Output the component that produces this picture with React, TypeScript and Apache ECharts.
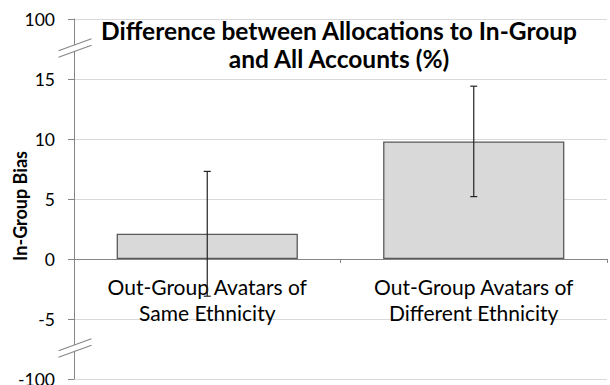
import React, { useEffect, useRef } from "react";
import * as echarts from "echarts";

const titleText = "Difference between Allocations to In-Group\nand All Accounts (%)";
const yAxisTitle = "In-Group Bias";
const categories = [
  "Out-Group Avatars of\nSame Ethnicity",
  "Out-Group Avatars of\nDifferent Ethnicity",
];
const biasValues = [2.1, 9.8];
const errorLow = [-3.1, 5.2];
const errorHigh = [7.3, 14.4];
// axis positions (linear, broken) and the labels shown there
const tickValues = [-10, -5, 0, 5, 10, 15, 20];
const tickLabels = ["-100", "-5", "0", "5", "10", "15", "100"];
const breakValues = [17.6, -7.4];

const FONT = "Lato, 'Noto Sans', sans-serif";

export default function App() {
  const ref = useRef<HTMLDivElement>(null);

  useEffect(() => {
    document.body.style.margin = "0";
    if (!ref.current) return;
    const chart = echarts.init(ref.current, undefined, { renderer: "svg" });

    const option: any = {
      animation: false,
      backgroundColor: "#ffffff",
      title: {
        text: titleText,
        left: 339,
        textAlign: "center",
        top: 16,
        padding: 0,
        textStyle: {
          fontFamily: FONT,
          fontWeight: "bold",
          fontSize: 24.5,
          lineHeight: 28,
          color: "#000",
          backgroundColor: "#ffffff",
          padding: [0, 6],
        },
        z: 10,
      },
      grid: {
        left: 74,
        right: 3,
        top: 19,
        bottom: 6,
        containLabel: false,
        outerBoundsMode: "none",
      },
      xAxis: {
        type: "category",
        data: categories,
        position: "bottom",
        offset: 0,
        axisLine: { onZero: false, lineStyle: { color: "#868686", width: 1 } },
        axisTick: { show: true, length: 4, lineStyle: { color: "#868686" } },
        axisLabel: {
          fontFamily: FONT,
          fontSize: 21,
          lineHeight: 26,
          color: "#000",
          margin: 14,
          interval: 0,
        },
        splitLine: { show: false },
      },
      yAxis: {
        type: "value",
        min: -10,
        max: 20,
        interval: 5,
        axisLine: { show: true, lineStyle: { color: "#868686", width: 1 } },
        axisTick: { show: true, length: 6, lineStyle: { color: "#868686" } },
        axisLabel: {
          fontFamily: FONT,
          fontSize: 17.5,
          color: "#000",
          margin: 19,
          formatter: (v: number) => {
            const i = tickValues.indexOf(v);
            return i >= 0 ? tickLabels[i] : "";
          },
        },
        splitLine: { show: true, lineStyle: { color: "#d9d9d9", width: 1 } },
      },
      series: [
        {
          type: "bar",
          data: biasValues,
          barWidth: "68%",
          itemStyle: { color: "#d9d9d9", borderColor: "#595959", borderWidth: 1.3 },
          z: 2,
        },
        {
          type: "custom",
          data: biasValues.map((_, i) => [i, errorLow[i], errorHigh[i]]),
          z: 5,
          renderItem: (params: any, api: any) => {
            const x = api.value(0);
            const lo = api.coord([x, api.value(1)]);
            const hi = api.coord([x, api.value(2)]);
            const cap = 3.5;
            const style = { stroke: "#222", lineWidth: 1.2 };
            return {
              type: "group",
              children: [
                { type: "line", shape: { x1: lo[0], y1: lo[1], x2: hi[0], y2: hi[1] }, style },
                { type: "line", shape: { x1: hi[0] - cap, y1: hi[1], x2: hi[0] + cap, y2: hi[1] }, style },
                { type: "line", shape: { x1: lo[0] - cap, y1: lo[1], x2: lo[0] + cap, y2: lo[1] }, style },
              ],
            };
          },
        },
      ],
    };
    chart.setOption(option);

    // move the category axis (line, ticks, labels) up to the zero line
    const zeroY = chart.convertToPixel({ yAxisIndex: 0 }, 0) as number;
    const bottomY = chart.convertToPixel({ yAxisIndex: 0 }, -10) as number;

    const x0 = 74.5;
    const graphics: any[] = [];
    breakValues.forEach((bv) => {
      const cy = chart.convertToPixel({ yAxisIndex: 0 }, bv) as number;
      graphics.push({
        type: "polygon",
        shape: {
          points: [
            [x0 - 16, cy + 3],
            [x0 + 17, cy - 9],
            [x0 + 17, cy - 3],
            [x0 - 16, cy + 9],
          ],
        },
        style: { fill: "#ffffff" },
        z: 20,
      });
      graphics.push({
        type: "line",
        shape: { x1: x0 - 16, y1: cy + 3, x2: x0 + 17, y2: cy - 9 },
        style: { stroke: "#868686", lineWidth: 1.2 },
        z: 21,
      });
      graphics.push({
        type: "line",
        shape: { x1: x0 - 16, y1: cy + 9.5, x2: x0 + 17, y2: cy - 2.5 },
        style: { stroke: "#868686", lineWidth: 1.2 },
        z: 21,
      });
    });
    graphics.push({
      type: "text",
      x: 20,
      y: 206,
      rotation: Math.PI / 2,
      style: {
        text: yAxisTitle,
        fontFamily: FONT,
        fontWeight: "bold",
        fontSize: 18,
        fill: "#000",
        align: "center",
        verticalAlign: "middle",
      },
      z: 20,
    });
    chart.setOption({
      xAxis: { offset: -(bottomY - zeroY) },
      graphic: graphics,
    });

    return () => chart.dispose();
  }, []);

  return <div ref={ref} style={{ width: 610, height: 385 }} />;
}
